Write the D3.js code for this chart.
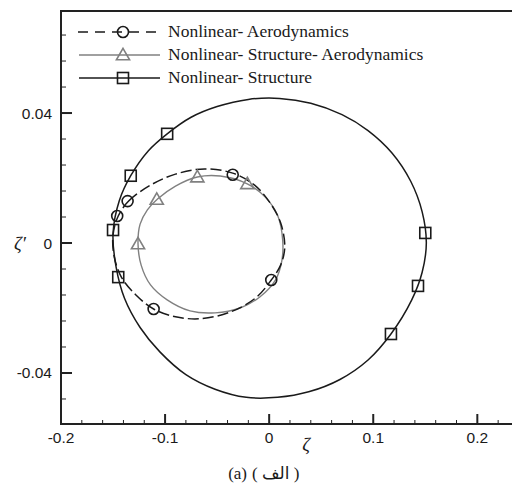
<!DOCTYPE html>
<html>
<head>
<meta charset="utf-8">
<script src="https://cdn.jsdelivr.net/npm/d3@7"></script>
<style>
  body { margin: 0; background: #fff; }
  svg { display: block; }
</style>
</head>
<body>
<div id="chart"></div>
<script>
// ---- data (zeta, zeta') ----
var aeroCurve = [[-0.145,0.0083],[-0.135,0.0129],[-0.114,0.0178],[-0.090,0.0212],[-0.062,0.0228],[-0.035,0.0215],[-0.014,0.0178],[0.001,0.0123],[0.011,0.0062],[0.015,-0.0012],[0.011,-0.0068],[0.002,-0.0114],[-0.013,-0.0169],[-0.037,-0.0212],[-0.066,-0.0233],[-0.090,-0.0227],[-0.111,-0.0203],[-0.128,-0.0160],[-0.142,-0.0105],[-0.149,-0.0040],[-0.150,0.0025]];
var aeroMarks = [[-0.136,0.0129],[-0.146,0.0083],[-0.035,0.0210],[0.002,-0.0114],[-0.111,-0.0203]];

var structAeroCurve = [[-0.126,-0.0003],[-0.124,0.0058],[-0.117,0.0102],[-0.107,0.0136],[-0.090,0.0175],[-0.069,0.0203],[-0.047,0.0206],[-0.021,0.0182],[-0.004,0.0142],[0.008,0.0086],[0.013,0.0009],[0.012,-0.0058],[0.006,-0.0114],[-0.009,-0.0166],[-0.028,-0.0200],[-0.052,-0.0215],[-0.076,-0.0209],[-0.098,-0.0175],[-0.114,-0.0129],[-0.123,-0.0068]];
var structAeroMarks = [[-0.126,-0.0003],[-0.108,0.0134],[-0.069,0.0203],[-0.021,0.0182]];

var structCurve = [[-0.150,0.0030],[-0.144,0.0130],[-0.133,0.0207],[-0.116,0.0284],[-0.098,0.0336],[-0.075,0.0387],[-0.050,0.0420],[-0.020,0.0442],[0.010,0.0445],[0.040,0.0430],[0.070,0.0395],[0.095,0.0346],[0.118,0.0277],[0.136,0.0190],[0.147,0.0096],[0.151,0.0000],[0.147,-0.0090],[0.137,-0.0175],[0.117,-0.0280],[0.095,-0.0360],[0.068,-0.0420],[0.038,-0.0458],[0.008,-0.0475],[-0.022,-0.0475],[-0.052,-0.0450],[-0.080,-0.0405],[-0.105,-0.0335],[-0.124,-0.0260],[-0.139,-0.0170],[-0.147,-0.0075]];
var structMarks = [[-0.098,0.0336],[-0.133,0.0207],[-0.150,0.0040],[-0.145,-0.0105],[0.150,0.0031],[0.143,-0.0132],[0.117,-0.0280]];

var xTicks = [-0.2, -0.1, 0, 0.1, 0.2];
var yTicks = [-0.04, 0, 0.04];
var legendLabels = ["Nonlinear- Aerodynamics", "Nonlinear- Structure- Aerodynamics", "Nonlinear- Structure"];

// ---- layout ----
var W = 512, H = 491;
var svg = d3.select("#chart").append("svg").attr("width", W).attr("height", H);

var x = d3.scaleLinear().domain([-0.2, 0.241]).range([61, 520]);
var y = d3.scaleLinear().domain([-0.0557, 0.0714]).range([424, 11]);

var line = d3.line().x(d => x(d[0])).y(d => y(d[1])).curve(d3.curveCatmullRomClosed);

// curves
svg.append("path").datum(structCurve).attr("d", line)
  .attr("fill", "none").attr("stroke", "#1a1a1a").attr("stroke-width", 1.5);
svg.append("path").datum(structAeroCurve).attr("d", line)
  .attr("fill", "none").attr("stroke", "#808080").attr("stroke-width", 1.4);
svg.append("path").datum(aeroCurve).attr("d", line)
  .attr("fill", "none").attr("stroke", "#1a1a1a").attr("stroke-width", 1.5)
  .attr("stroke-dasharray", "11,4");

// markers
function square(g, px, py, col) {
  g.append("rect").attr("x", px - 5.5).attr("y", py - 5.5).attr("width", 11).attr("height", 11)
    .attr("fill", "none").attr("stroke", col).attr("stroke-width", 1.6);
}
function tri(g, px, py, col) {
  g.append("path").attr("d", d3.symbol().type(d3.symbolTriangle).size(75)())
    .attr("transform", "translate(" + px + "," + (py + 1) + ")")
    .attr("fill", "none").attr("stroke", col).attr("stroke-width", 1.6);
}
function circ(g, px, py, col) {
  g.append("circle").attr("cx", px).attr("cy", py).attr("r", 5.5)
    .attr("fill", "none").attr("stroke", col).attr("stroke-width", 1.6);
}
var mk = svg.append("g");
structMarks.forEach(d => square(mk, x(d[0]), y(d[1]), "#1a1a1a"));
structAeroMarks.forEach(d => tri(mk, x(d[0]), y(d[1]), "#808080"));
aeroMarks.forEach(d => circ(mk, x(d[0]), y(d[1]), "#1a1a1a"));

// frame
svg.append("rect").attr("x", 61).attr("y", 11).attr("width", 459).attr("height", 413)
  .attr("fill", "none").attr("stroke", "#222").attr("stroke-width", 2);

// ticks (inward)
var ax = svg.append("g").attr("stroke", "#222");
d3.range(-0.2, 0.2401, 0.02).forEach(function(v) {
  var major = xTicks.some(t => Math.abs(t - v) < 1e-6);
  ax.append("line").attr("x1", x(v)).attr("x2", x(v)).attr("y1", 424).attr("y2", 424 - (major ? 10 : 4))
    .attr("stroke-width", major ? 2 : 1);
});
d3.range(-0.048, 0.0714, 0.008).forEach(function(v) {
  var major = yTicks.some(t => Math.abs(t - v) < 1e-6);
  ax.append("line").attr("y1", y(v)).attr("y2", y(v)).attr("x1", 61).attr("x2", 61 + (major ? 11 : 5))
    .attr("stroke-width", major ? 2 : 1);
});

// tick labels
svg.selectAll(".xl").data(xTicks).enter().append("text")
  .attr("x", d => x(d)).attr("y", 443).attr("text-anchor", "middle")
  .style("font", "15.5px 'Liberation Sans', Arial, sans-serif").attr("fill", "#1a1a1a")
  .text(d => d === 0 ? "0" : d3.format(".1f")(d).replace("−", "-"));
svg.selectAll(".yl").data(yTicks).enter().append("text")
  .attr("x", 52).attr("y", d => y(d) + 5.5).attr("text-anchor", "end")
  .style("font", "15.5px 'Liberation Sans', Arial, sans-serif").attr("fill", "#1a1a1a")
  .text(d => d === 0 ? "0" : d3.format(".2f")(d).replace("−", "-"));

// axis titles
svg.append("text").attr("x", 306).attr("y", 451).attr("text-anchor", "middle")
  .style("font", "italic 19px 'Liberation Serif', serif").attr("fill", "#1a1a1a").text("ζ");
svg.append("text").attr("x", 20).attr("y", 250).attr("text-anchor", "middle")
  .style("font", "italic 19px 'Liberation Serif', serif").attr("fill", "#1a1a1a").text("ζ′");

// legend
var legY = [32, 55, 78];
var lg = svg.append("g");
lg.append("line").attr("x1", 78).attr("x2", 160).attr("y1", legY[0]).attr("y2", legY[0])
  .attr("stroke", "#1a1a1a").attr("stroke-width", 1.5).attr("stroke-dasharray", "10,7");
circ(lg, 123, legY[0], "#1a1a1a");
lg.append("line").attr("x1", 79).attr("x2", 160).attr("y1", legY[1]).attr("y2", legY[1])
  .attr("stroke", "#808080").attr("stroke-width", 1.4);
tri(lg, 123, legY[1], "#808080");
lg.append("line").attr("x1", 79).attr("x2", 160).attr("y1", legY[2]).attr("y2", legY[2])
  .attr("stroke", "#1a1a1a").attr("stroke-width", 1.5);
square(lg, 123, legY[2], "#1a1a1a");
lg.selectAll("text").data(legendLabels).enter().append("text")
  .attr("x", 168).attr("y", (d, i) => legY[i] + 5)
  .style("font", "17.5px 'Liberation Serif', 'Times New Roman', serif").attr("fill", "#1a1a1a")
  .text(d => d);

// caption
svg.append("text").attr("x", 247).attr("y", 479).attr("text-anchor", "end")
  .style("font", "17px 'Liberation Serif', serif").attr("fill", "#1a1a1a").text("(a)");
svg.append("text").attr("x", 252).attr("y", 479).attr("text-anchor", "start")
  .style("font", "17px 'Liberation Serif', 'DejaVu Sans', serif").attr("fill", "#1a1a1a").text("( الف )");
</script>
</body>
</html>
